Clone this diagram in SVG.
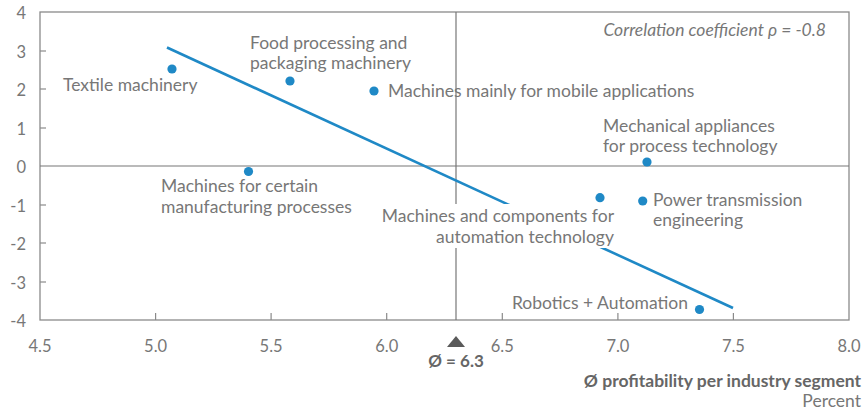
<svg xmlns="http://www.w3.org/2000/svg" width="864" height="414" viewBox="0 0 864 414">
<style>
text{font-family:Lato,"Open Sans","Liberation Sans",sans-serif;font-size:16.5px;fill:#777}
.lb{font-size:17.5px}
.r{text-anchor:end}
.m{text-anchor:middle}
.b{font-weight:bold;fill:#666}
.z{font-size:17px}
.it{font-style:italic;font-size:17.5px}
.frame{fill:none;stroke:#8a8a8a;stroke-width:1.3}
.ax{stroke:#777;stroke-width:1.2}
.tick{stroke:#8a8a8a;stroke-width:1.2}
.dot{fill:#1f89c6}
.trend{stroke:#1f89c6;stroke-width:2.6;fill:none}
</style>
<rect width="864" height="414" fill="#fff"/>
<g id="axes">
<rect class="frame" x="40" y="12" width="809" height="308"/>
<line class="ax" x1="40" y1="166" x2="849" y2="166"/>
<line class="ax" x1="456" y1="12" x2="456" y2="320"/>
<g class="tick">
<line x1="40" y1="51" x2="46" y2="51"/><line x1="40" y1="89" x2="46" y2="89"/><line x1="40" y1="128" x2="46" y2="128"/><line x1="40" y1="205" x2="46" y2="205"/><line x1="40" y1="243" x2="46" y2="243"/><line x1="40" y1="282" x2="46" y2="282"/>
<line x1="155.6" y1="313" x2="155.6" y2="320"/><line x1="271.1" y1="313" x2="271.1" y2="320"/><line x1="386.7" y1="313" x2="386.7" y2="320"/><line x1="502.3" y1="313" x2="502.3" y2="320"/><line x1="617.9" y1="313" x2="617.9" y2="320"/><line x1="733.4" y1="313" x2="733.4" y2="320"/>
</g>
<g>
<text class="r" x="26" y="19">4</text><text class="r" x="26" y="58">3</text><text class="r" x="26" y="96">2</text><text class="r" x="26" y="135">1</text><text class="r" x="26" y="173">0</text><text class="r" x="26" y="212">-1</text><text class="r" x="26" y="250">-2</text><text class="r" x="26" y="289">-3</text><text class="r" x="26" y="327">-4</text>
</g>
<text class="m" x="40" y="352">4.5</text><text class="m" x="155.6" y="352">5.0</text><text class="m" x="271.1" y="352">5.5</text><text class="m" x="386.7" y="352">6.0</text><text class="m" x="502.3" y="352">6.5</text><text class="m" x="617.9" y="352">7.0</text><text class="m" x="733.4" y="352">7.5</text><text class="m" x="849" y="352">8.0</text>
<polygon points="456,336 465,347 447,347" fill="#5a5a5a"/>
<text class="m b z" x="456" y="367">Ø = 6.3</text>
<text class="r b lb" x="861" y="387">Ø profitability per industry segment</text>
<text class="r lb" x="861" y="407">Percent</text>
<text class="r it" x="826" y="36">Correlation coefficient ρ = -0.8</text>
</g>
<g id="connectors">
<line class="trend" x1="167" y1="47.5" x2="733" y2="308"/>
</g>
<g id="textile"><circle class="dot" cx="172" cy="69" r="4.6"/><text class="lb" x="63" y="91">Textile machinery</text></g>
<g id="food"><circle class="dot" cx="290" cy="81" r="4.6"/><text class="lb" x="250" y="49">Food processing and</text><text class="lb" x="250" y="69">packaging machinery</text></g>
<g id="mobile"><circle class="dot" cx="374" cy="91" r="4.6"/><text class="lb" x="388" y="97">Machines mainly for mobile applications</text></g>
<g id="manufacturing"><circle class="dot" cx="248.5" cy="171.5" r="4.6"/><text class="lb" x="161" y="192">Machines for certain</text><text class="lb" x="161" y="213">manufacturing processes</text></g>
<g id="mechanical"><circle class="dot" cx="647" cy="162" r="4.6"/><text class="lb" x="603" y="132">Mechanical appliances</text><text class="lb" x="603" y="152">for process technology</text></g>
<g id="automation-components"><rect x="378" y="204" width="238" height="44" fill="#fff"/><circle class="dot" cx="600" cy="197.7" r="4.6"/><text class="r lb" x="614" y="222">Machines and components for</text><text class="r lb" x="614" y="243">automation technology</text></g>
<g id="power"><circle class="dot" cx="642.7" cy="201" r="4.6"/><text class="lb" x="653" y="206">Power transmission</text><text class="lb" x="653" y="226">engineering</text></g>
<g id="robotics"><circle class="dot" cx="699.5" cy="309.5" r="4.6"/><text class="r lb" x="688" y="309">Robotics + Automation</text></g>
</svg>
